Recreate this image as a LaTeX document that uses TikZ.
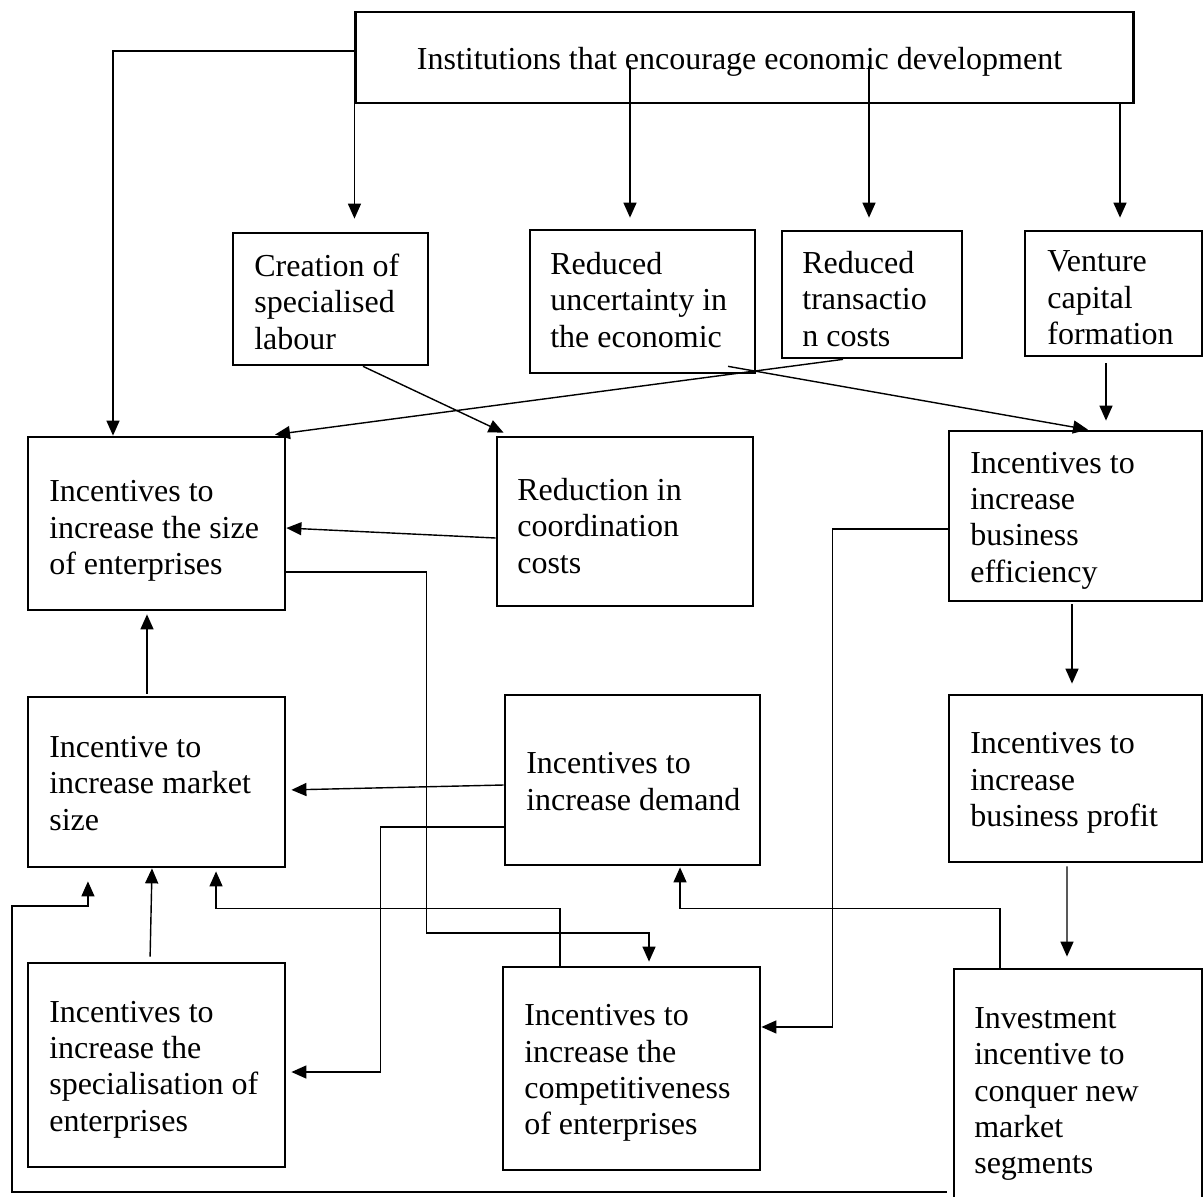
\documentclass[tikz,border=0pt]{standalone}
\usepackage{fontspec}
\setmainfont{Liberation Serif}
\usetikzlibrary{arrows.meta,positioning}
\tikzset{box/.style={draw,line width=0.75pt,inner sep=0pt},
 txt/.style={align=left,inner sep=0pt,yshift=-0.45mm,font=\fontsize{9.1pt}{10.35pt}\selectfont},
 conn/.style={-{Triangle[length=0.15cm,width=0.13cm]},line width=0.4pt},
 short/.style={shorten >=#1}}

\begin{document}
\begin{tikzpicture}[x=0.01cm,y=-0.01cm]
\useasboundingbox (0,0) rectangle (1203,1197);
% boxes
\node[box,minimum width=7.77cm,minimum height=0.91cm] (top) at (744.5,57.5) {};
\node[box,minimum width=1.95cm,minimum height=1.32cm] (creation) at (330.5,299) {};
\node[box,minimum width=2.25cm,minimum height=1.43cm] (uncert) at (642.5,301.5) {};
\node[box,minimum width=1.80cm,minimum height=1.27cm] (trans) at (872,294.5) {};
\node[box,minimum width=1.77cm,minimum height=1.25cm] (venture) at (1113.5,293.5) {};
\node[box,minimum width=2.57cm,minimum height=1.73cm] (size) at (156.5,523.5) {};
\node[box,minimum width=2.56cm,minimum height=1.69cm] (coord) at (625,521.5) {};
\node[box,minimum width=2.53cm,minimum height=1.70cm] (effic) at (1075.5,516) {};
\node[box,minimum width=2.57cm,minimum height=1.70cm] (market) at (156.5,782) {};
\node[box,minimum width=2.55cm,minimum height=1.70cm] (demand) at (632.5,780) {};
\node[box,minimum width=2.53cm,minimum height=1.67cm] (profit) at (1075.5,778.5) {};
\node[box,minimum width=2.57cm,minimum height=2.04cm] (special) at (156.5,1065) {};
\node[box,minimum width=2.57cm,minimum height=2.03cm] (compet) at (631.5,1068.5) {};
\node[box,minimum width=2.48cm,minimum height=2.41cm] (invest) at (1078,1089.5) {};
% texts
\node[txt] (top-t) at ([xshift=-0.5mm]top) {Institutions that encourage economic development};
\node[txt,right=2.2mm of creation.west,yshift=0.2mm] (creation-t) {Creation of\\specialised\\labour};
\node[txt,right=2.1mm of uncert.west,yshift=0.6mm] (uncert-t) {Reduced\\uncertainty in\\the economic};
\node[txt,right=2.1mm of trans.west] (trans-t) {Reduced\\transactio\\n costs};
\node[txt,right=2.3mm of venture.west] (venture-t) {Venture\\capital\\formation};
\node[txt,right=2.2mm of size.west,yshift=-0.3mm] (size-t) {Incentives to\\increase the size\\of enterprises};
\node[txt,right=2.1mm of coord.west] (coord-t) {Reduction in\\coordination\\costs};
\node[txt,right=2.2mm of effic.west] (effic-t) {Incentives to\\increase\\business\\efficiency};
\node[txt,right=2.2mm of market.west,yshift=0.3mm] (market-t) {Incentive to\\increase market\\size};
\node[txt,right=2.2mm of demand.west,yshift=0.3mm] (demand-t) {Incentives to\\increase demand};
\node[txt,right=2.2mm of profit.west] (profit-t) {Incentives to\\increase\\business profit};
\node[txt,right=2.2mm of special.west] (special-t) {Incentives to\\increase the\\specialisation of\\enterprises};
\node[txt,right=2.2mm of compet.west] (compet-t) {Incentives to\\increase the\\competitiveness\\of enterprises};
\node[txt,right=2.1mm of invest.west] (invest-t) {Investment\\incentive to\\conquer new\\market\\segments};
% from the institutions box
\coordinate (tl) at (113,51);
\coordinate (c1) at (630,66);
\coordinate (c2) at (869,66);
\coordinate (c3) at (1120,0);
\draw[conn] (top.west |- tl) -- (tl) -- (tl |- size.north);
\draw[conn,short=0.13cm] (top.south west) -- (top.south west |- creation.north);
\draw[conn,short=0.11cm] (c1) -- (c1 |- uncert.north);
\draw[conn,short=0.12cm] (c2) -- (c2 |- trans.north);
\draw[conn,short=0.12cm] (c3 |- top.south) -- (c3 |- venture.north);
% second row
\draw[conn,short=0.07cm] ([xshift=3.25mm]creation.south) -- ([xshift=-11.5mm]coord.north);
\draw[conn,short=0.08cm] ([xshift=-2.9mm]trans.south) -- ([xshift=11.05mm]size.north);
\draw[conn] ([xshift=8.55mm,yshift=0.8mm]uncert.south) -- ([xshift=1.25mm]effic.north);
\draw[conn,short=0.09cm,shorten <=0.06cm] ([xshift=-0.75mm]venture.south) -- ([xshift=-0.75mm]venture.south |- effic.north);
\draw[conn] ([yshift=-1.65mm]coord.west) -- ([yshift=-0.45mm]size.east);
\draw[conn,short=0.04cm] ([yshift=-4.85mm]size.east) -| ++(140,361) -| ([xshift=1.75mm]compet.north);
\draw[conn] ([yshift=-1.3mm]effic.west) -- ++(-115,0) |- ([yshift=4.15mm]compet.east);
\draw[conn,short=0.1cm,shorten <=0.02cm] ([xshift=-0.35mm]effic.south) -- ([xshift=-0.35mm]profit.north);
% lower rows
\draw[conn,short=0.05cm] ([yshift=-0.5mm]demand.west) -- ([yshift=-0.8mm]market.east);
\draw[conn,short=0.05cm] ([yshift=-4.7mm]demand.west) -- ++(-123,0) |- ([yshift=-0.7mm]special.east);
\draw[conn,short=0.03cm,shorten <=0.02cm] ([xshift=-0.95mm]market.north) -- ([xshift=-0.95mm]size.south);
\draw[conn,shorten <=0.05cm] ([xshift=-0.65mm]special.north) -- ([xshift=-0.45mm]market.south);
\draw[conn,short=0.03cm] ([xshift=-7.15mm]compet.north) -- ++(0,-57) -| ([xshift=5.95mm]market.south);
\draw[conn,short=0.01cm] ([xshift=-7.8mm]invest.north) -- ++(0,-59) -| ([xshift=4.75mm]demand.south);
\draw[conn,short=0.11cm,shorten <=0.03cm] ([xshift=-0.85mm]profit.south) -- ([xshift=-1.1mm]invest.north);
\coordinate (lp) at (12,906);
\draw[conn,short=0.13cm] ([xshift=-0.6mm,yshift=-10.25mm]invest.west) -| (lp) -| ([xshift=-6.85mm]market.south);
\end{tikzpicture}
\end{document}
